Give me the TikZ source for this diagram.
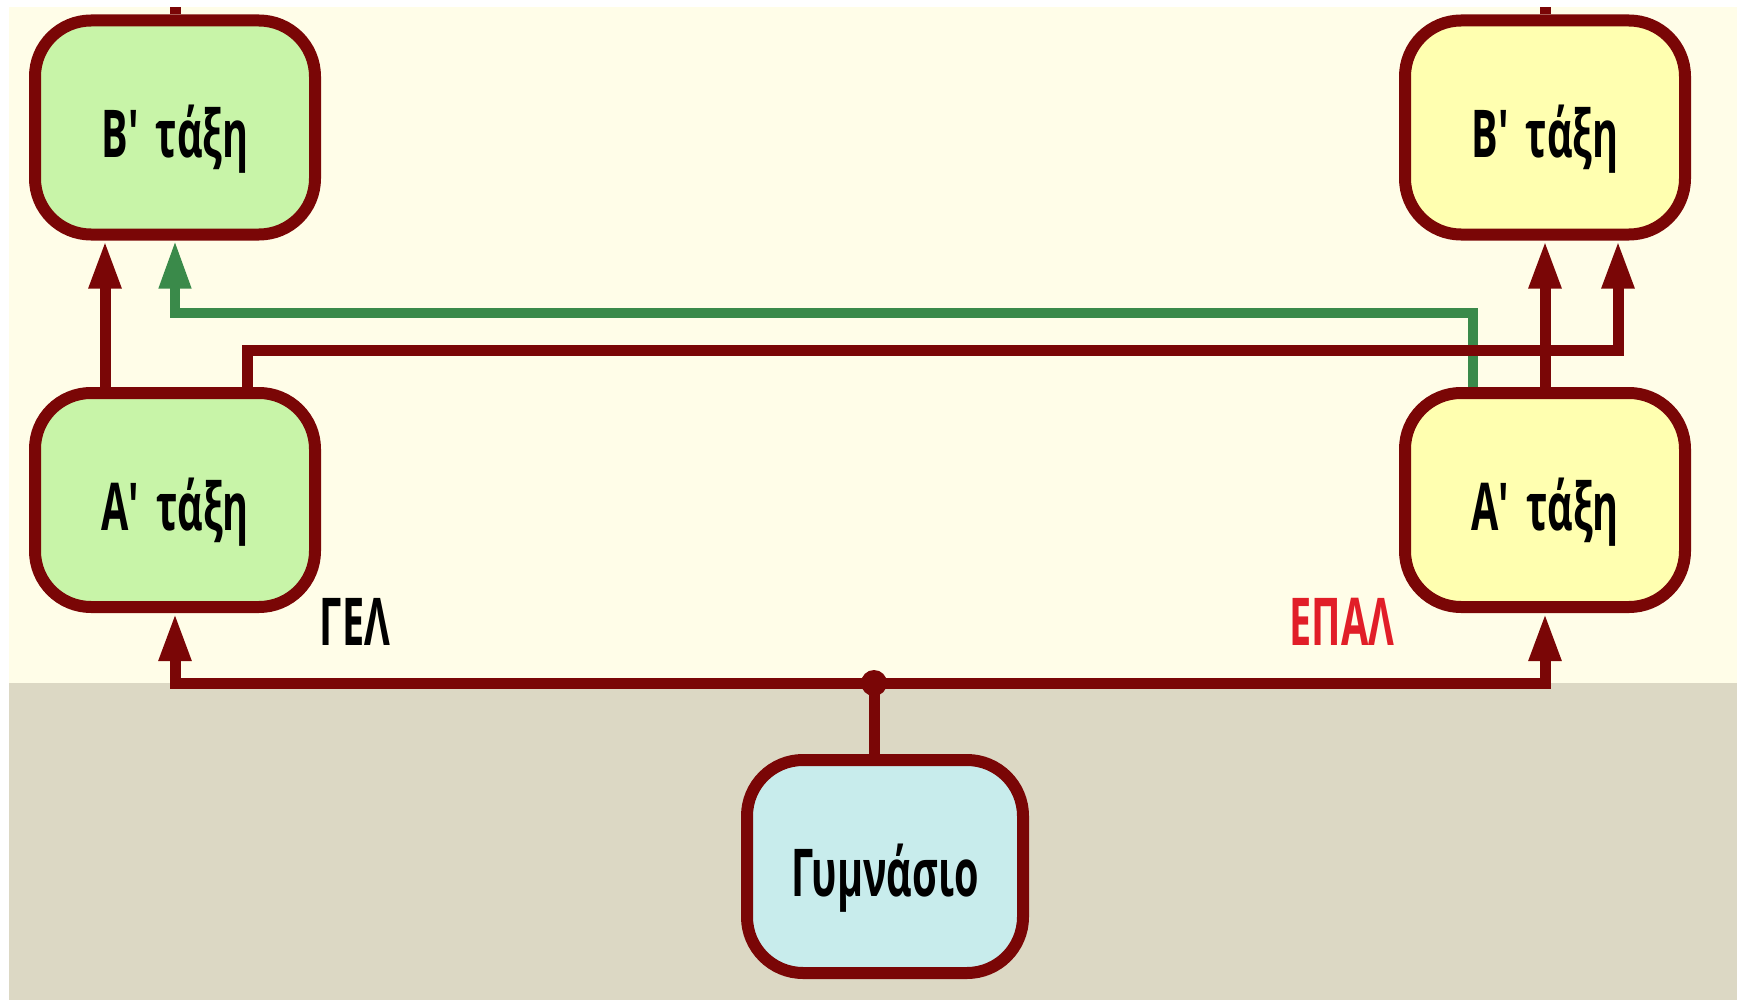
\documentclass[tikz,border=0pt]{standalone}
\usepackage{fontspec}
\setmainfont{Open Sans}[FakeStretch=0.6]
\usetikzlibrary{arrows.meta,calc}
\definecolor{dred}{RGB}{122,6,6}
\definecolor{ggreen}{RGB}{58,138,74}
\definecolor{lgreen}{RGB}{200,244,168}
\definecolor{lyellow}{RGB}{255,255,176}
\definecolor{lcyan}{RGB}{200,236,236}
\definecolor{cream}{RGB}{255,253,232}
\definecolor{beige}{RGB}{220,216,196}
\definecolor{epalred}{RGB}{225,30,40}
\begin{document}
\begin{tikzpicture}[x=0.5pt,y=-0.5pt,
  box/.style={draw=dred,line width=6pt,rounded corners=28pt,minimum width=140pt,
    minimum height=107pt,inner sep=0pt,text height=30pt,text depth=0pt,
    font=\fontsize{33}{36}\selectfont\bfseries},
  lbl/.style={inner sep=0pt,font=\fontsize{33}{36}\selectfont\bfseries},
  conn/.style={draw=dred,line width=5.5pt},
  arr/.style={-{Triangle[length=24pt,width=15pt]}},
  gconn/.style={draw=ggreen,line width=5pt}]
\useasboundingbox (0,0) rectangle (1741,1006);
\fill[cream] (9,7) rectangle (1737,683);
\fill[beige] (9,683) rectangle (1737,1000);
% nodes
\node[box,fill=lgreen] (lb) at (175,127.5) {Β\textquotesingle{} τάξη};
\node[box,fill=lgreen] (la) at (175,500) {Α\textquotesingle{} τάξη};
\node[box,fill=lyellow] (rb) at (1545,127.5) {Β\textquotesingle{} τάξη};
\node[box,fill=lyellow] (ra) at (1545,500) {Α\textquotesingle{} τάξη};
\node[box,fill=lcyan,minimum width=138pt,minimum height=106.5pt] (gym) at (885,866.5) {Γυμνάσιο};
\node[lbl] (gel) at (355,622) {ΓΕΛ};
\node[lbl,text=epalred] (epal) at (1342,622) {ΕΠΑΛ};
% helper coordinates
\coordinate (dot) at (874,683);
\coordinate (tl) at (175,7);
\coordinate (tr) at (1545,7);
\coordinate (jr) at (1618,350);
\coordinate (jg) at (175,313);
% connectors
\draw[gconn,arr] ([xshift=-36pt]ra.north) |- (jg) -- (lb.south);
\draw[conn,arr] ([xshift=36pt]la.north) |- (jr) -- (jr |- rb.south);
\draw[conn,arr] ([xshift=-35pt]la.north) -- ([xshift=-35pt]lb.south);
\draw[conn,arr] (ra.north) -- (rb.south);
\draw[conn] (lb.north) -- (tl);
\draw[conn] (rb.north) -- (tr);
\draw[conn] (gym.north -| dot) -- (dot);
\draw[conn,arr] (dot) -| (la.south);
\draw[conn,arr] (dot) -| (ra.south);
\fill[dred] (dot) circle (6.5pt);
\end{tikzpicture}
\end{document}
